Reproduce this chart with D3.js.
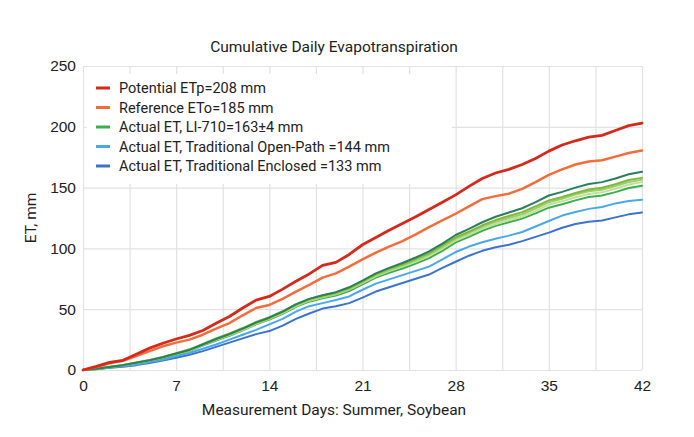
<!DOCTYPE html>
<html>
<head>
<meta charset="utf-8">
<script src="https://cdn.jsdelivr.net/npm/d3@7"></script>
<style>
  body { margin: 0; background: #fff; }
  svg { font-family: Roboto, "Noto Sans", sans-serif; }
  .grid line { stroke: #e2e2e2; stroke-width: 1.2; }
  .grid path { display: none; }
  .axis path { display: none; }
  .axis text { fill: #222; font-size: 15.5px; }
</style>
</head>
<body>
<div id="chart"></div>
<script>
/* DATA: cumulative ET (mm) for each measurement day 0..42 */
var days = d3.range(0, 43);

var potential = [0,3,6.3,8,13,18,22,25.5,28.5,32.5,38.5,44,51,57.5,60.5,66.5,73,79,86,88.5,95,103,109,115,120.5,126,132,138,144,151,157.5,162,165,169,174,180,185,188.5,191.5,193,197,201,203];
var reference = [0,2.5,5.5,7.5,11.5,15.5,19.5,22.5,25,29,34,38.5,45,51,53.5,58.5,64.5,70,76,79.5,85,91,96.5,101.5,106,111.5,117.5,123,128.5,134.5,140.5,143,145,149,154.5,160.5,165,169,171.5,172.5,175.5,178.5,180.5];
var li710a = [0,1,2.5,4,6,8,10.5,13.5,16.5,21,25.5,29.5,34,39,43,48,54,58.5,61.5,64,68,73.5,79.5,84,88,92.5,97.5,104,111,116,121.5,126,129.5,133,138,143.5,146.5,150,153,154.5,157.5,161,163];
var li710b = [0,1,2.7,4.2,6.2,8.2,10.8,13.8,17,21.5,26,30,34.5,39.5,43.5,48.3,54.2,58.5,61.3,63.7,67.6,73,78.8,83.2,87,91.4,96.2,102.5,109,113.8,119,123.3,126.6,129.8,134.5,139.5,142.3,145.6,148.5,149.9,152.8,156.2,158];
var li710c = [0,1,2.5,4,6,8,10.5,13.4,16.3,20.8,25.2,29.1,33.6,38.5,42.5,47.3,53.2,57.5,60.3,62.7,66.6,72,77.8,82.2,86,90.2,95,101.3,108,112.7,117.7,121.8,125,128.1,132.8,138,140.8,144.2,147,148.3,151.2,154.5,156.5];
var li710d = [0,1,2.4,3.8,5.8,7.7,10.2,13.1,16,20.4,24.8,28.7,33.1,38,42,46.8,52.6,57,59.8,62.2,66.1,71.5,77.1,81.3,85,89.2,93.8,99.9,106.5,111.1,116.1,120.1,123.2,126.2,130.7,136,138.7,142,144.8,146.1,149.1,152.5,154.5];
var li710e = [0,0.9,2.3,3.7,5.6,7.5,9.9,12.8,15.6,20,24.3,28.2,32.6,37.5,41.5,46.2,52,56.2,59,61.2,64.9,70.5,76,80,83.5,87.5,92,98,105,109.5,114.5,118.5,121.5,124.5,128.8,133.5,136.3,139.5,142.2,143.5,146.3,149.7,151.5];
var openPath = [0,0.8,2,3,4.5,6.5,8.5,11.5,14,17.5,21,25,29,33,37.5,42,48,52.5,55,57.5,60.5,66,71,74.5,78,81.5,85,91,97,101.5,105,108,110.5,113.5,118,122.5,127,130,132.5,134,137,139,140];
var enclosed = [0,0.7,1.8,2.7,4,5.8,7.8,10,12.5,15.5,19,22.5,26,29.5,32,36.5,42,46.5,50.5,52.5,55,59.5,64.5,68,71.5,75,78.5,84,89,94,98,101,103,106,109.5,113,117,120,122,123,125.5,128,129.5];

var xTicks = [0, 7, 14, 21, 28, 35, 42];
var yTicks = [0, 50, 100, 150, 200, 250];

var legendLabels = [
  "Potential ETp=208 mm",
  "Reference ETo=185 mm",
  "Actual ET, LI-710=163\u00b14 mm",
  "Actual ET, Traditional Open-Path =144 mm",
  "Actual ET, Traditional Enclosed =133 mm"
];

/* drawing order: bottom first */
var series = [
  { values: enclosed,  color: "#3b73d1", width: 2 },
  { values: openPath,  color: "#49a8ec", width: 2 },
  { values: li710e,    color: "#3dae4b", width: 2 },
  { values: li710d,    color: "#bfdea3", width: 2 },
  { values: li710c,    color: "#9dcf5c", width: 2 },
  { values: li710b,    color: "#7db843", width: 2 },
  { values: li710a,    color: "#2b7f5c", width: 2 },
  { values: reference, color: "#f36d3b", width: 2.5 },
  { values: potential, color: "#d5291b", width: 2.8 }
];
var legendColors = ["#d5291b", "#f36d3b", "#3dae4b", "#49a8ec", "#3b73d1"];

/* set up dimensions */
var W = 694, H = 437;
var margin = {top: 66, right: 52, bottom: 67, left: 83};
var width = W - margin.left - margin.right,
    height = H - margin.top - margin.bottom;

var svg = d3.select("#chart").append("svg")
  .attr("width", W)
  .attr("height", H);

var g = svg.append("g")
  .attr("transform", "translate(" + margin.left + "," + margin.top + ")");

var x = d3.scaleLinear().domain([0, 42]).range([0, width]);
var y = d3.scaleLinear().domain([0, 250]).range([height, 0]);

/* gridlines */
g.append("g")
  .attr("class", "grid")
  .attr("transform", "translate(0," + height + ")")
  .call(d3.axisBottom(x).tickValues(d3.range(0, 42.01, 3.5)).tickSize(-height).tickFormat(""));
g.append("g")
  .attr("class", "grid")
  .call(d3.axisLeft(y).tickValues(yTicks).tickSize(-width).tickFormat(""));

/* lines */
var line = d3.line()
  .x(function(d, i) { return x(days[i]); })
  .y(function(d) { return y(d); });

series.forEach(function(s) {
  g.append("path")
    .datum(s.values)
    .attr("fill", "none")
    .attr("stroke", s.color)
    .attr("stroke-width", s.width)
    .attr("stroke-linejoin", "round")
    .attr("stroke-linecap", "round")
    .attr("d", line);
});

/* axes */
g.append("g")
  .attr("class", "axis")
  .attr("transform", "translate(0," + height + ")")
  .call(d3.axisBottom(x).tickValues(xTicks).tickSize(0).tickPadding(10))
  .selectAll("text").attr("dy", "0.71em");

g.append("g")
  .attr("class", "axis")
  .call(d3.axisLeft(y).tickValues(yTicks).tickSize(0).tickPadding(7));

/* legend */
var legend = g.append("g");
legend.append("rect")
  .attr("x", 4).attr("y", 8)
  .attr("width", 365).attr("height", 110)
  .attr("fill", "#fff");

legendLabels.forEach(function(label, i) {
  var ly = 22 + i * 19.5;
  legend.append("line")
    .attr("x1", 13).attr("x2", 27)
    .attr("y1", ly).attr("y2", ly)
    .attr("stroke", legendColors[i])
    .attr("stroke-width", 3);
  legend.append("text")
    .attr("x", 36).attr("y", ly)
    .attr("dy", "0.35em")
    .style("font-size", "14.5px")
    .style("fill", "#222")
    .text(label);
});

/* title and axis labels */
svg.append("text")
  .attr("x", 334).attr("y", 52)
  .attr("text-anchor", "middle")
  .style("font-size", "15.5px")
  .style("fill", "#222")
  .text("Cumulative Daily Evapotranspiration");

svg.append("text")
  .attr("x", 334).attr("y", 415)
  .attr("text-anchor", "middle")
  .style("font-size", "15.5px")
  .style("fill", "#222")
  .text("Measurement Days: Summer, Soybean");

svg.append("text")
  .attr("transform", "translate(36," + (margin.top + height / 2) + ") rotate(-90)")
  .attr("text-anchor", "middle")
  .style("font-size", "15.5px")
  .style("fill", "#222")
  .text("ET, mm");
</script>
</body>
</html>
